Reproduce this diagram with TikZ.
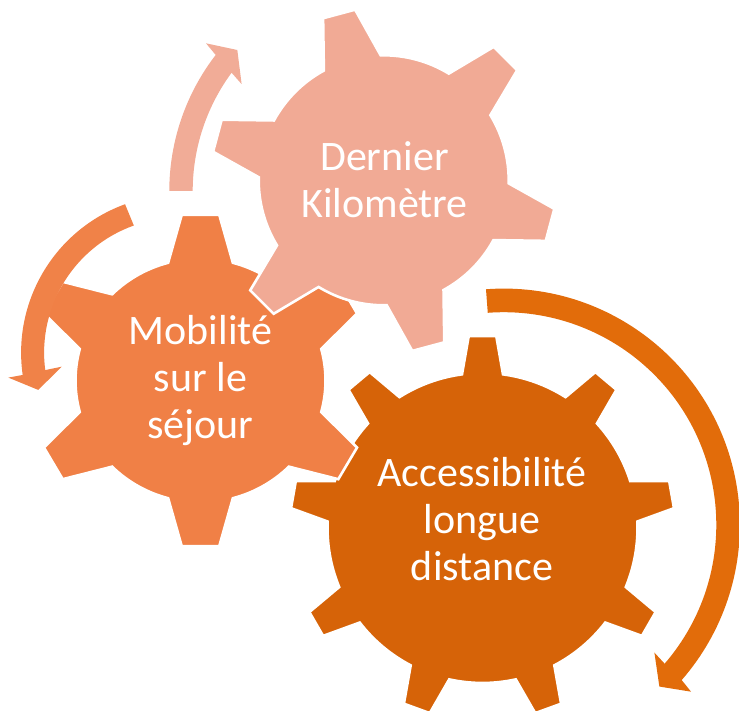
\documentclass[tikz,border=0pt]{standalone}
\usepackage{fontspec}
\setmainfont{Carlito}
\definecolor{cBig}{RGB}{214,99,8}
\definecolor{cBigArr}{RGB}{226,108,10}
\definecolor{cMid}{RGB}{240,128,70}
\definecolor{cMidArr}{RGB}{240,130,72}
\definecolor{cSal}{RGB}{241,170,149}
\definecolor{cSalArr}{RGB}{241,172,151}
% #1 teeth, #2 first tooth angle, #3 tip radius, #4 root radius, #5 tip half-angle, #6 base half-angle, #7 options
\newcommand\gearshape[7]{%
  \pgfmathsetmacro\gstep{360/#1}%
  \pgfmathtruncatemacro\glast{#1-1}%
  \filldraw[#7] (#2+#6:#4) \foreach \k [evaluate=\k as \ga using #2-\k*\gstep] in {0,...,\glast} {
     -- (\ga+#6:#4) -- (\ga+#5:#3) -- (\ga-#5:#3) -- (\ga-#6:#4)
     arc[start angle=\ga-#6, end angle=\ga-\gstep+#6, radius=#4]} -- cycle;
}
\begin{document}
\begin{tikzpicture}[x=1pt,y=1pt]
\tikzset{gearout/.style={draw=white,line width=2.6pt,line join=miter},
  lbl/.style={text=white,align=center,inner sep=0pt,font=\fontsize{42}{47}\selectfont}}
\useasboundingbox (0,0) rectangle (739,711);
% large gear
\begin{scope}[shift={(482.5,183)}]
  \gearshape{9}{90}{192.5}{155}{4.1}{7.6}{gearout,fill=cBig}
\end{scope}
% right circular arrow
\begin{scope}[shift={(503.7,186.2)}]
  \fill[cBigArr] (94.3:236.2) arc[start angle=94.3,end angle=-41.1,radius=236.2]
    -- (-41.7:250.9) -- (-46.1:224.5) -- (-40.3:197.6) -- (-40.8:212.6)
    arc[start angle=-40.8,end angle=94.3,radius=212.6] -- cycle;
\end{scope}
% medium gear
\begin{scope}[shift={(200.5,330.5)},yscale=0.975]
  \gearshape{6}{90}{171}{125}{6.3}{15}{gearout,fill=cMid}
\end{scope}
% left circular arrow
\begin{scope}[shift={(179.1,358.3)}]
  \fill[cMidArr] (110:158) arc[start angle=110,end angle=188.1,radius=158]
    -- (188.3:172.6) -- (194.8:145.7) -- (186.8:118.2) -- (187.4:135)
    arc[start angle=187.4,end angle=109.6,radius=135] -- cycle;
\end{scope}
% small gear
\begin{scope}[shift={(383.7,530.7)}]
  \gearshape{6}{105}{173}{125}{5.5}{13.6}{gearout,fill=cSal}
\end{scope}
% top circular arrow
\begin{scope}[shift={(392,520)}]
  \fill[cSalArr] (180:222.7) arc[start angle=180,end angle=142.35,radius=222.7]
    -- (141.55:237.5) -- (137.65:209.3) -- (144.6:184.5) -- (143.6:199.3)
    arc[start angle=143.6,end angle=180,radius=199.3] -- cycle;
\end{scope}
% labels
\node[lbl] (acc) at (482,192) {Accessibilité\\longue\\distance};
\node[lbl] (mob) at (200.5,330) {Mobilité\\sur le\\séjour};
\node[lbl] (der) at (384.5,531.6) {Dernier\\Kilomètre};
\end{tikzpicture}
\end{document}
